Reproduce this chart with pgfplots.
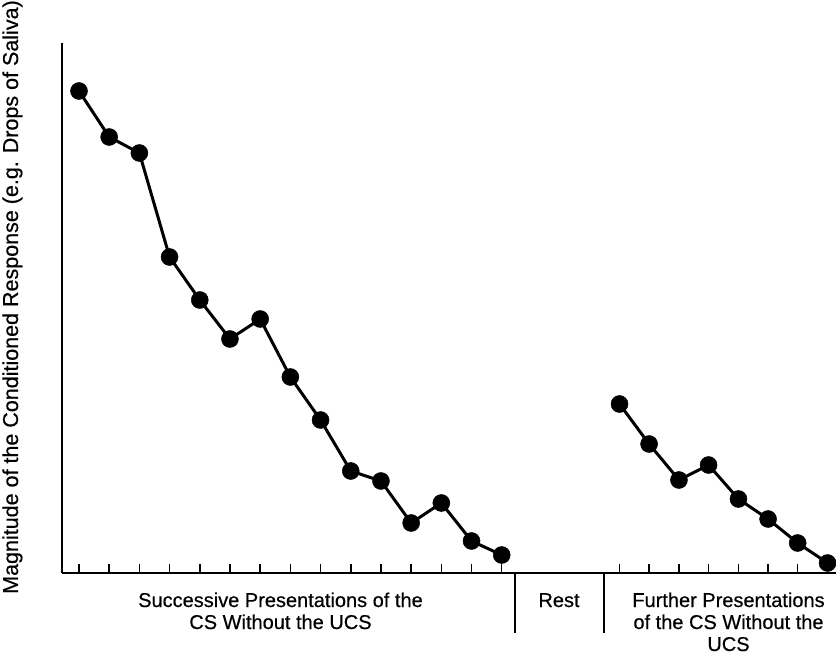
\documentclass[border=0pt]{standalone}
\usepackage{fontspec}
\setmainfont[FakeBold=0.5]{Liberation Sans}
\usepackage{pgfplots}
\pgfplotsset{compat=1.18}
\begin{document}
\begin{tikzpicture}
\begin{axis}[
  scale only axis, width=774bp, height=530bp,
  xmin=0.437, xmax=26.07, ymin=0, ymax=530,
  axis x line=bottom, axis y line=left,
  axis line style={-, line width=1.8bp},
  xtick={1,2,3,4,5,6,7,8,9,10,11,12,13,14,15,18.9,19.88,20.87,21.85,22.84,23.82,24.8,25.79},
  xticklabels={}, ytick=\empty,
  major tick length=9bp, xtick align=inside,
  tick style={line width=1.5bp, black},
  clip=false,
]
\addplot[black, line width=3bp, mark=*, mark size=8.5bp, mark options={line width=0.5bp}] coordinates {
(1,482) (2,436) (3,420) (4,316) (5,273) (6,234) (7,254) (8,196) (9,153) (10,102) (11,92) (12,50) (13,70) (14,32) (15,18)
};
\addplot[black, line width=3bp, mark=*, mark size=8.5bp, mark options={line width=0.5bp}] coordinates {
(18.9,169) (19.88,129) (20.87,93) (21.85,108) (22.84,74) (23.82,54) (24.8,30) (25.79,10)
};
\end{axis}
\draw[line width=1.6bp] (453bp,0) -- (453bp,-60bp);
\draw[line width=1.6bp] (542bp,0) -- (542bp,-60bp);
\node[rotate=90, anchor=base, inner sep=0pt, font=\fontsize{21.5bp}{23bp}\selectfont] at (-44bp,276bp) {Magnitude of the Conditioned Response (e.g. Drops of Saliva)};
\begin{scope}[every node/.style={anchor=base, inner sep=0pt, font=\fontsize{20bp}{22bp}\selectfont}]
\node at (218.5bp,-34bp) {Successive Presentations of the};
\node at (218.5bp,-56bp) {CS Without the UCS};
\node at (497bp,-34bp) {Rest};
\node at (666.5bp,-34bp) {Further Presentations};
\node at (666.5bp,-56bp) {of the CS Without the};
\node at (666.5bp,-78bp) {UCS};
\end{scope}
\pgfresetboundingbox
\useasboundingbox (-62bp,-84bp) rectangle (774bp,573bp);
\end{tikzpicture}
\end{document}
